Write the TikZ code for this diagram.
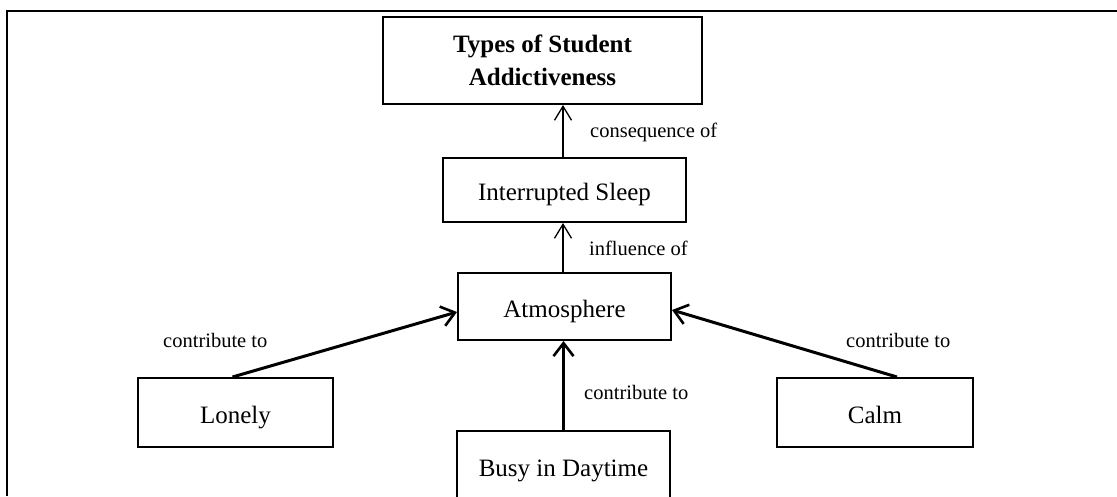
\documentclass[tikz,border=0pt]{standalone}
\usepackage{fontspec}
\setmainfont{Liberation Serif}
\usetikzlibrary{arrows.meta}

\tikzset{
  box/.style={draw, line width=2pt, rectangle, inner sep=0pt, align=center,
    font=\fontsize{25}{30}\selectfont, text height=23pt, text depth=2pt},
  thinlink/.style={line width=1.3pt, -{Straight Barb[length=14pt,width=17pt,line width=1.3pt]}},
  thicklink/.style={line width=3pt, -{Straight Barb[length=13pt,width=20pt,line width=2.6pt]}},
  lbl/.style={anchor=base west, inner sep=0pt, font=\fontsize{20.5}{24}\selectfont},
  frame/.style={line width=2pt}
}

\begin{document}
\begin{tikzpicture}[x=1pt, y=-1pt]
  \useasboundingbox (0,0) rectangle (1117,496);
  \clip (0,0) rectangle (1117,496);

  % outer frame (top and left edges)
  \coordinate (fa) at (7,496);
  \coordinate (fb) at (7,11);
  \coordinate (fc) at (1117,11);
  \draw[frame] (fa) -- (fb) -- (fc);

  % concept boxes
  \node[box, minimum width=319pt, minimum height=87pt, text height=, text depth=,
        font=\bfseries\fontsize{25}{33}\selectfont]
        (types) at (542.5,60.5) {Types of Student\\Addictiveness};
  \node[box, minimum width=243pt, minimum height=64pt] (sleep) at (564.5,190) {Interrupted Sleep};
  \node[box, minimum width=213pt, minimum height=67pt] (atm) at (564.5,306.5) {Atmosphere};
  \node[box, minimum width=195pt, minimum height=69pt] (lonely) at (235.5,412.5) {Lonely};
  \node[box, minimum width=196pt, minimum height=69pt] (calm) at (875,412.5) {Calm};
  \node[box, minimum width=213pt, minimum height=69pt] (busy) at (563.5,465.5) {Busy in Daytime};

  % links
  \draw[thinlink] ([xshift=-1.5pt]sleep.north) -- ([xshift=-1.5pt]sleep.north |- types.south);
  \draw[thinlink] ([xshift=-1.5pt]atm.north) -- ([xshift=-1.5pt]atm.north |- sleep.south);
  \draw[thicklink] (busy.north) -- (busy.north |- atm.south);
  \draw[thicklink] ([xshift=-3pt]lonely.north) -- ([yshift=-5.5pt]atm.west);
  \draw[thicklink] ([xshift=22pt]calm.north) -- ([yshift=-3.5pt]atm.east);

  % link labels
  \node[lbl] (l1) at (590,137) {consequence of};
  \node[lbl] (l2) at (589,255) {influence of};
  \node[lbl] (l3) at (163,347.5) {contribute to};
  \node[lbl] (l4) at (846,347.5) {contribute to};
  \node[lbl] (l5) at (584,399) {contribute to};
\end{tikzpicture}
\end{document}
